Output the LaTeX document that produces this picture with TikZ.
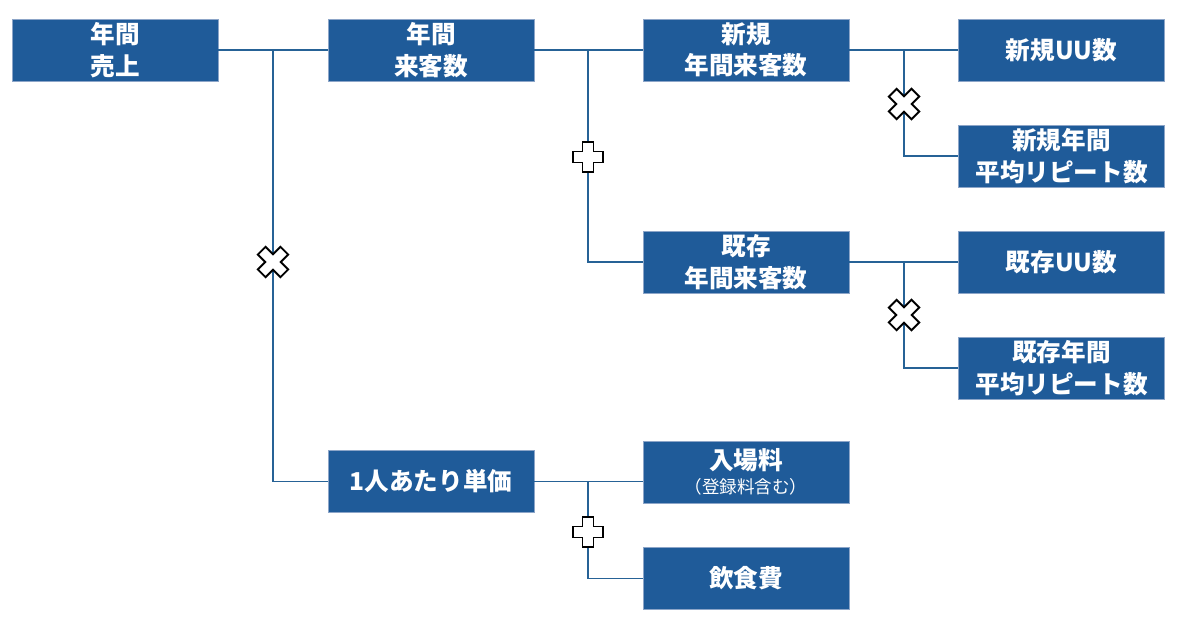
\documentclass[tikz,border=0pt]{standalone}
\usepackage{fontspec}
\setmainfont{Noto Sans CJK JP}
\usepackage{tikz}

\definecolor{boxblue}{RGB}{31,91,153}
\definecolor{boxedge}{RGB}{140,165,200}
\definecolor{linkblue}{RGB}{38,98,150}

\tikzset{
  box/.style={rectangle, fill=boxblue, draw=boxedge, line width=0.5pt,
    minimum width=4.12cm, minimum height=1.24cm, inner sep=0pt,
    text=white, align=center, font=\fontsize{14}{18}\selectfont\bfseries},
  link/.style={draw=linkblue, line width=1.1pt},
  plus/.pic={
    \draw[fill=white, line width=1.1pt] (-5.5,-15) -- (5.5,-15) -- (5.5,-5.5) -- (15,-5.5)
      -- (15,5.5) -- (5.5,5.5) -- (5.5,15) -- (-5.5,15) -- (-5.5,5.5) -- (-15,5.5)
      -- (-15,-5.5) -- (-5.5,-5.5) -- cycle;
  },
  times/.pic={
    \draw[fill=white, line width=1.1pt, rotate=45] (-5.5,-16) -- (5.5,-16) -- (5.5,-5.5) -- (16,-5.5)
      -- (16,5.5) -- (5.5,5.5) -- (5.5,16) -- (-5.5,16) -- (-5.5,5.5) -- (-16,5.5)
      -- (-16,-5.5) -- (-5.5,-5.5) -- cycle;
  }
}

\begin{document}
\begin{tikzpicture}[x=0.02cm, y=-0.02cm]
\useasboundingbox (0,0) rectangle (1200,635);

% boxes
\node[box] (uriage)    at (115,50)     {年間\\売上};
\node[box] (raikyaku)  at (431,50)     {年間\\来客数};
\node[box] (shinki)    at (746,50)     {新規\\年間来客数};
\node[box] (shinkiuu)  at (1061.5,50)  {新規UU数};
\node[box] (shinkirep) at (1061.5,156) {新規年間\\平均リピート数};
\node[box] (kizon)     at (746,262)    {既存\\年間来客数};
\node[box] (kizonuu)   at (1061.5,262) {既存UU数};
\node[box] (kizonrep)  at (1061.5,368) {既存年間\\平均リピート数};
\node[box] (tanka)     at (431,481.5)  {1人あたり単価};
\node[box] (nyujo)     at (746,472)    {入場料\\[-4pt]{\fontsize{10}{11}\selectfont\mdseries （登録料含む）}};
\node[box] (inshoku)   at (746,578.5)  {飲食費};

% branch points
\coordinate (b1) at (273,50);
\coordinate (b2) at (588,50);
\coordinate (b3) at (904,50);
\coordinate (b4) at (904,262);
\coordinate (b5) at (588,481.5);

% connectors
\draw[link] (uriage.east) -- (raikyaku.west);
\draw[link] (b1) |- (tanka.west);
\draw[link] (raikyaku.east) -- (shinki.west);
\draw[link] (b2) |- (kizon.west);
\draw[link] (shinki.east) -- (shinkiuu.west);
\draw[link] (b3) |- (shinkirep.west);
\draw[link] (kizon.east) -- (kizonuu.west);
\draw[link] (b4) |- (kizonrep.west);
\draw[link] (tanka.east) -- (tanka.east -| nyujo.west);
\draw[link] (b5) |- (inshoku.west);

% operators
\pic at (273,262) {times};
\pic at (588,157) {plus};
\pic at (904,104) {times};
\pic at (904,315) {times};
\pic at (588,532) {plus};
\end{tikzpicture}
\end{document}
